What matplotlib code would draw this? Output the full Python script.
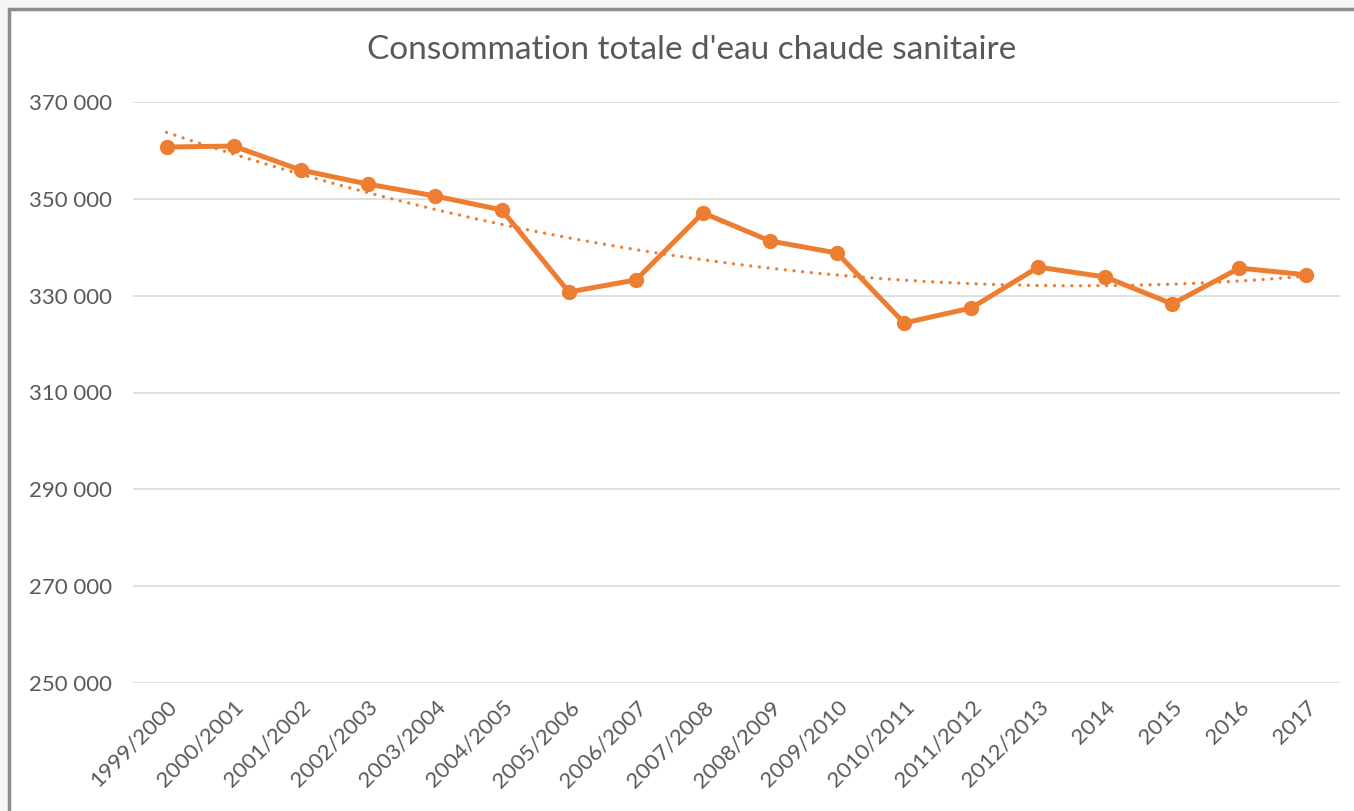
import numpy as np
import matplotlib.pyplot as plt
from matplotlib.patches import Rectangle
from matplotlib.ticker import FuncFormatter

categories = ['1999/2000', '2000/2001', '2001/2002', '2002/2003', '2003/2004',
              '2004/2005', '2005/2006', '2006/2007', '2007/2008', '2008/2009',
              '2009/2010', '2010/2011', '2011/2012', '2012/2013', '2014',
              '2015', '2016', '2017']
consommation = [360700, 360900, 355950, 353050, 350600, 347700, 330750, 333250,
                347100, 341300, 338800, 324350, 327450, 335900, 333850, 328300,
                335700, 334300]
y_ticks = [250000, 270000, 290000, 310000, 330000, 350000, 370000]

orange = '#ED7D31'
gris = '#595959'

plt.rcParams['font.family'] = ['Lato', 'DejaVu Sans']

fig = plt.figure(figsize=(13.54, 8.11), dpi=100, facecolor='#f3f5f7')
# cadre du graphique (derrière les axes)
fig.patches.append(Rectangle((9 / 1354, -0.05), 1.1, 1 - 9 / 811 + 0.05,
                             transform=fig.transFigure, facecolor='white',
                             edgecolor='#8c8c8c', linewidth=2.5, zorder=-10))

ax = fig.add_axes([133 / 1354, 1 - 683 / 811, (1340 - 133) / 1354, (683 - 102) / 811])
ax.set_facecolor('none')

x = np.arange(len(categories))
ax.plot(x, consommation, color=orange, lw=3.6, marker='o', ms=10, zorder=3)

# courbe de tendance polynomiale (ordre 2)
coef = np.polyfit(x, consommation, 2)
xt = np.linspace(0, len(categories) - 1, 200)
ax.plot(xt, np.polyval(coef, xt), color=orange, lw=2.4, ls=(0, (0.01, 2.6)),
        dash_capstyle='round', zorder=2)

ax.set_xlim(-0.5, len(categories) - 0.5)
ax.set_ylim(250000, 370000)
ax.set_yticks(y_ticks)
ax.yaxis.set_major_formatter(FuncFormatter(lambda v, p: f'{int(v):,}'.replace(',', ' ')))
ax.set_xticks(x)
ax.set_xticklabels(categories, rotation=45, ha='right', rotation_mode='anchor')
ax.grid(axis='y', color='#d9d9d9', lw=1.2)
ax.set_axisbelow(True)
for s in ax.spines.values():
    s.set_visible(False)
ax.tick_params(axis='both', length=0, colors=gris, labelsize=16)
ax.tick_params(axis='y', pad=15)
ax.tick_params(axis='x', pad=10)

fig.text(0.511, 1 - 50 / 811, "Consommation totale d'eau chaude sanitaire",
         ha='center', va='center', fontsize=24, color=gris)

fig.savefig('out.png', dpi=100, facecolor=fig.get_facecolor())
